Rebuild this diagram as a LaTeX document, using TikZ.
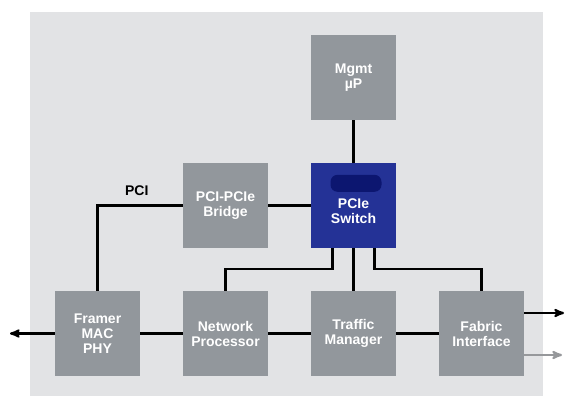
\documentclass[tikz,border=0pt]{standalone}
\usepackage{fontspec}
\setmainfont{Liberation Sans}
\usepackage{tikz}
\usetikzlibrary{arrows,positioning}
\definecolor{panel}{RGB}{226,227,229}
\definecolor{boxgray}{RGB}{146,151,156}
\definecolor{switchblue}{RGB}{36,50,150}
\definecolor{blobblue}{RGB}{12,22,112}
\definecolor{outgray}{RGB}{150,152,155}
\tikzstyle{block}=[rectangle,fill=boxgray,minimum size=85pt,inner sep=0pt,align=center,text=white,font=\bfseries\fontsize{14}{15}\selectfont]
\tikzstyle{switch}=[block,fill=switchblue]
\tikzstyle{wire}=[line width=2.2pt,draw=black]

\begin{document}
\begin{tikzpicture}[x=1pt,y=1pt,node distance=128pt,>=stealth']

    \useasboundingbox (0,0) rectangle (566,408);
    \fill[panel] (30,12) rectangle (543,396);

    \node[block]  (FR) at (97.5,74.5) {Framer\\MAC\\PHY};
    \node[block]  (NP) [right of=FR] {Network\\Processor};
    \node[block]  (TM) [right of=NP] {Traffic\\Manager};
    \node[block]  (FI) [right of=TM] {Fabric\\Interface};
    \node[switch] (SW) [above of=TM] {};
    \node[block]  (BR) [left of=SW] {PCI-PCIe\\Bridge};
    \node[block]  (MG) [above of=SW] {Mgmt\\µP};
    \node[block,fill=none] (SWtext) at ([yshift=-6pt]SW.center) {PCIe\\Switch};
    \fill[blobblue,rounded corners=7pt] ([shift={(-23pt,-12pt)}]SW.north) rectangle ([shift={(28pt,-29pt)}]SW.north);

    \coordinate (lineout) at (10,74.5);
    \coordinate (fabout)  at (564,95);
    \coordinate (fabaux)  at (562,53);

    \path[wire]
        (MG) edge (SW)
        (BR) edge (SW)
        (SW) edge (TM)
        (FR) edge (NP)
        (NP) edge (TM)
        (TM) edge (FI);
    \draw[wire] ([xshift=-21pt]SW.south) -- ++(0,-21) -| (NP.north);
    \draw[wire] ([xshift=21pt]SW.south) -- ++(0,-21) -| (FI.north);
    \draw[wire] (BR.west) -| node[pos=0.27,above=5pt,font=\bfseries\fontsize{14}{15}\selectfont] {PCI} (FR.north);
    \draw[wire,->] (FR.west) -- (lineout);
    \draw[wire,->] (FI.east |- fabout) -- (fabout);
    \draw[wire,draw=outgray,->] (FI.east |- fabaux) -- (fabaux);
\end{tikzpicture}
\end{document}
